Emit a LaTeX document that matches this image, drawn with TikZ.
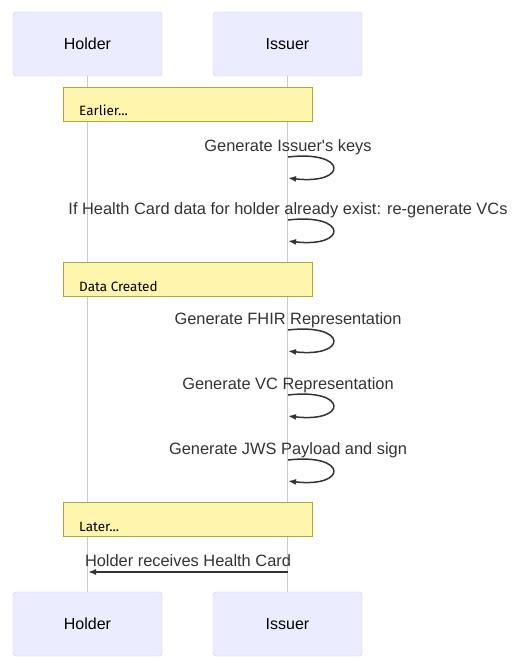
\documentclass[tikz,border=0pt]{standalone}
\usepackage{fontspec}
\setmainfont{Liberation Sans}
\newfontfamily\notefont{Fira Sans}
\usetikzlibrary{positioning,arrows.meta}

\definecolor{actorfill}{HTML}{ECECFF}
\definecolor{actorline}{HTML}{CCCCFF}
\definecolor{notefill}{HTML}{FFF5AD}
\definecolor{noteline}{HTML}{AAAA33}
\definecolor{msgcol}{HTML}{333333}
\definecolor{lifecol}{HTML}{CCCCCC}

\tikzset{
	actor/.style={draw=actorline, fill=actorfill, rounded corners=3pt, minimum width=149pt, minimum height=64pt, inner sep=0pt, font=\fontsize{16}{19}\selectfont},
	note/.style={draw=noteline, fill=notefill, minimum width=249pt, minimum height=34pt, anchor=north west, inner sep=0pt},
	notetext/.style={anchor=base west, inner sep=0pt, font=\notefont\fontsize{13.5}{16}\selectfont},
	msg/.style={anchor=base, inner sep=0pt, text=msgcol, font=\fontsize{16.4}{19}\selectfont},
	selfmsg/.style={draw=msgcol, line width=1.5pt, -{Latex[length=8pt,width=6pt]}}
}

\begin{document}
\begin{tikzpicture}[x=1pt,y=-1pt]
		\useasboundingbox (0,0) rectangle (528,666);

		% actors top and bottom
		\node[actor] (holdTop) at (87.5,44) {Holder};
		\node[actor] (issTop) at (287.5,44) {Issuer};
		\node[actor] (holdBot) at (87.5,624) {Holder};
		\node[actor] (issBot) at (287.5,624) {Issuer};

		% lifelines
		\draw[lifecol, line width=1pt] (holdTop.south) -- (holdBot.north);
		\draw[lifecol, line width=1pt] (issTop.south) -- (issBot.north);

		% notes
		\node[note] (nEarlier) at (63,87) {};
		\node[notetext] at (79,116) {Earlier...};
		\node[note] (nData) at (63,262) {};
		\node[notetext] at (79,291) {Data Created};
		\node[note] (nLater) at (63,502) {};
		\node[notetext] at (79,531) {Later...};

		% self messages on Issuer
		\foreach \y/\txt in {157/{Generate Issuer\textquotesingle s keys},
			220/{If Health Card data for holder already exist: re-generate VCs},
			330/{Generate FHIR Representation},
			395/{Generate VC Representation},
			460/{Generate JWS Payload and sign}}
		{
			\node[msg] (m\y) at (288,\y-6) {\txt};
			\coordinate (s\y) at (288,\y);
			\coordinate (e\y) at (288,\y+21);
			\draw[selfmsg] (s\y) .. controls +(60,-7) and +(60,7) .. (e\y);
		}

		% Issuer to Holder
		\coordinate (iss) at (288,572);
		\coordinate (hold) at (88,572);
		\node[msg] (mRecv) at (188,566) {Holder receives Health Card};
		\draw[selfmsg] (iss) -- (hold);

	\end{tikzpicture}
\end{document}
